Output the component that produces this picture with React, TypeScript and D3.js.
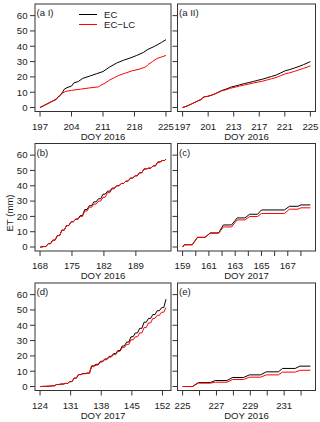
import React from 'react';
import * as d3 from 'd3';

type Pt = [number, number];

const seriesNames = ['EC', 'EC\u2212LC'];
const seriesColors = ['#000000', '#FF0000'];
const yTicks = [0, 10, 20, 30, 40, 50, 60];
const yLimits: [number, number] = [0, 65];
const yAxisTitle = 'ET (mm)';

// (a I)
const aIEC: Pt[] = [
  [197, 0], [198, 1.5], [199, 3.0], [200, 4.5], [200.5, 5.0], [201, 7.0], [201.5, 8.0], [202, 10.0],
  [202.4, 12.0], [203, 13.0], [204, 14.0], [204.5, 16.0], [205.5, 17.0], [206.5, 19.0], [208, 20.5],
  [209.5, 22.0], [211, 23.5], [212.5, 26.5], [214, 29.0], [215.5, 30.8], [217, 32.3], [218.5, 34.0],
  [220, 36.0], [221, 38.0], [222.5, 40.0], [224, 42.5], [225, 44.3],
];
const aILC: Pt[] = [
  [197, 0], [198, 1.5], [199, 3.0], [200, 4.5], [201, 6.5], [201.5, 8.0], [202, 9.5], [202.7, 10.5],
  [204, 11.2], [206, 12.0], [208, 12.8], [210, 13.5], [210.5, 14.5], [211.5, 16.0], [212.5, 18.0],
  [213.5, 19.5], [214.5, 21.0], [216, 22.5], [217.5, 24.0], [219, 25.0], [220.5, 26.5], [221, 28.0],
  [222, 30.0], [223, 32.0], [224, 33.0], [225, 34.0],
];

// (a II)
const aIIEC: Pt[] = [
  [197, 0], [198, 1.0], [199, 2.4], [200, 3.8], [201, 5.2], [201.7, 7.0], [202.5, 7.3], [203.5, 8.2],
  [204.5, 9.5], [205.5, 11.0], [206.5, 12.0], [207.5, 13.2], [208.5, 14.0], [209.5, 14.8], [210.5, 15.6],
  [211.5, 16.3], [212.5, 17.0], [213.5, 17.8], [214.5, 18.5], [215.5, 19.4], [216.5, 20.3], [217.5, 21.2],
  [218.5, 22.6], [219.5, 24.0], [220.5, 24.8], [221.5, 25.8], [222.5, 26.8], [223.5, 28.0], [224.5, 29.3],
  [225, 30.0],
];
const aIILC: Pt[] = [
  [197, 0], [198, 1.0], [199, 2.4], [200, 3.8], [201, 5.2], [201.7, 7.0], [202.5, 7.3], [203.5, 8.2],
  [204.5, 9.4], [205.5, 10.8], [206.5, 11.6], [207.5, 12.6], [208.5, 13.3], [209.5, 14.0], [210.5, 14.7],
  [211.5, 15.3], [212.5, 16.0], [213.5, 16.6], [214.5, 17.2], [215.5, 18.0], [216.5, 18.8], [217.5, 19.6],
  [218.5, 20.8], [219.5, 22.0], [220.5, 22.7], [221.5, 23.6], [222.5, 24.6], [223.5, 25.6], [224.5, 26.6],
  [225, 27.2],
];
const aIITickValues = [197, 202.6, 208.2, 213.8, 219.4, 225];
const aIITickLabels = ['197', '201', '213', '217', '221', '225'];

// (b) daily cumulative totals
const bDays = [168, 169, 170, 171, 172, 173, 174, 175, 176, 177, 178, 179, 180, 181, 182, 183, 184, 185, 186, 187, 188, 189, 190, 191, 192, 193, 194, 195];
const bEC = [0.3, 2.2, 4.5, 7.5, 11.0, 14.0, 16.5, 18.3, 20.5, 24.5, 27.0, 29.5, 31.5, 34.5, 36.5, 38.5, 40.0, 41.5, 43.0, 45.0, 46.5, 48.5, 51.0, 51.5, 53.0, 55.5, 56.5, 57.4];
const bLC = [0.3, 2.2, 4.5, 7.5, 11.0, 14.0, 16.5, 18.0, 20.0, 23.5, 26.0, 28.0, 30.0, 32.5, 35.5, 38.0, 40.0, 41.5, 43.0, 45.0, 46.5, 48.5, 51.0, 51.5, 53.0, 55.5, 56.5, 57.4];
const bEnd = 195.6;

// (c)
const cEC: Pt[] = [
  [159.0, 0], [159.13, 1.5], [159.74, 1.5], [160.13, 6.3], [160.7, 6.3], [161.1, 9.2], [161.74, 9.2],
  [162.1, 14.4], [162.72, 14.4], [163.15, 19.0], [163.74, 19.0], [164.1, 21.4], [164.7, 21.4], [165.0, 24.2],
  [166.74, 24.2], [167.13, 26.6], [167.77, 26.6], [168.0, 27.5], [168.72, 27.5],
];
const cLC: Pt[] = [
  [159.0, 0], [159.13, 1.5], [159.74, 1.5], [160.13, 6.3], [160.7, 6.3], [161.1, 9.0], [161.74, 9.0],
  [162.1, 13.1], [162.72, 13.1], [163.15, 17.7], [163.74, 17.7], [164.1, 19.9], [164.7, 19.9], [165.0, 21.9],
  [166.74, 21.9], [167.13, 24.7], [167.77, 24.7], [168.0, 25.6], [168.72, 25.6],
];
const cTickValues = [159, 160, 161, 162, 163, 164, 165, 166, 167, 168];
const cTickLabels = ['159', '', '161', '', '163', '', '165', '', '167', ''];

// (d) daily cumulative totals
const dDays = [124, 125, 126, 127, 128, 129, 130, 131, 132, 133, 134, 135, 136, 137, 138, 139, 140, 141, 142, 143, 144, 145, 146, 147, 148, 149, 150, 151, 152];
const dEC = [0.1, 0.2, 0.5, 1.3, 1.6, 2.0, 3.2, 5.5, 7.8, 8.5, 8.8, 13.5, 14.5, 16.5, 18.0, 19.7, 21.5, 23.5, 26.5, 29.0, 32.5, 35.0, 38.0, 42.0, 44.5, 47.0, 49.5, 51.5, 57.0];
const dLC = [0.1, 0.2, 0.5, 1.3, 1.6, 2.0, 3.2, 5.5, 7.8, 8.3, 8.6, 13.0, 14.0, 16.0, 17.5, 19.2, 20.8, 23.0, 25.5, 27.5, 30.5, 32.5, 35.0, 38.5, 41.5, 44.5, 46.5, 48.5, 51.5];
const dEnd = 152.8;

// (e)
const eEC: Pt[] = [
  [225.0, 0], [225.58, 0], [225.93, 2.6], [226.63, 2.6], [226.93, 3.9], [227.62, 3.9], [227.96, 5.9],
  [228.6, 5.9], [228.95, 7.6], [229.6, 7.6], [229.95, 9.6], [230.66, 9.6], [230.9, 11.8], [231.65, 11.8],
  [231.93, 13.3], [232.55, 13.3],
];
const eLC: Pt[] = [
  [225.0, 0], [225.58, 0], [225.93, 2.2], [226.63, 2.2], [226.93, 2.8], [227.62, 2.8], [227.96, 4.6],
  [228.6, 4.6], [228.95, 6.1], [229.6, 6.1], [229.95, 7.6], [230.66, 7.6], [230.9, 9.4], [231.65, 9.4],
  [231.93, 10.6], [232.55, 10.6],
];
const eTickValues = [225, 226, 227, 228, 229, 230, 231, 232];
const eTickLabels = ['225', '', '227', '', '229', '', '231', ''];

// draw daily totals as a staircase whose risers span the daytime hours
function dailySteps(days: number[], vals: number[], end: number): Pt[] {
  const pts: Pt[] = [[days[0], 0]];
  let prev = 0;
  days.forEach((d, i) => {
    pts.push([d + 0.3, prev]);
    pts.push([Math.min(d + 0.8, end), vals[i]]);
    prev = vals[i];
  });
  pts.push([end, prev]);
  return pts;
}

const FONT = 'Liberation Sans, Arial, Helvetica, sans-serif';
const FS = 9.6;

interface PanelDef {
  label: string;
  col: number;
  row: number;
  xData: [number, number];
  ticks: number[];
  tickLabels: string[];
  xTitle: string;
  series: Pt[][];
  legend?: boolean;
  yLabels: boolean;
}

const panels: PanelDef[] = [
  { label: '(a I)', col: 0, row: 0, xData: [197, 225], ticks: [197, 204, 211, 218, 225], tickLabels: ['197', '204', '211', '218', '225'], xTitle: 'DOY 2016', series: [aIEC, aILC], legend: true, yLabels: true },
  { label: '(a II)', col: 1, row: 0, xData: [197, 225], ticks: aIITickValues, tickLabels: aIITickLabels, xTitle: 'DOY 2016', series: [aIIEC, aIILC], yLabels: false },
  { label: '(b)', col: 0, row: 1, xData: [168, bEnd], ticks: [168, 175, 182, 189], tickLabels: ['168', '175', '182', '189'], xTitle: 'DOY 2016', series: [dailySteps(bDays, bEC, bEnd), dailySteps(bDays, bLC, bEnd)], yLabels: true },
  { label: '(c)', col: 1, row: 1, xData: [159, 168.72], ticks: cTickValues, tickLabels: cTickLabels, xTitle: 'DOY 2017', series: [cEC, cLC], yLabels: false },
  { label: '(d)', col: 0, row: 2, xData: [124, dEnd], ticks: [124, 131, 138, 145, 152], tickLabels: ['124', '131', '138', '145', '152'], xTitle: 'DOY 2017', series: [dailySteps(dDays, dEC, dEnd), dailySteps(dDays, dLC, dEnd)], yLabels: true },
  { label: '(e)', col: 1, row: 2, xData: [225, 232.55], ticks: eTickValues, tickLabels: eTickLabels, xTitle: 'DOY 2016', series: [eEC, eLC], yLabels: false },
];

const colX: [number, number][] = [[35, 171], [177.5, 315.5]];
const rowTop = [4, 143.5, 283];
const boxH = 107.5;

function ext([a, b]: [number, number]): [number, number] {
  const d = (b - a) * 0.04;
  return [a - d, b + d];
}

function Panel({ p }: { p: PanelDef }) {
  const [x0, x1] = colX[p.col];
  const top = rowTop[p.row];
  const bottom = top + boxH;
  const x = d3.scaleLinear().domain(ext(p.xData)).range([x0, x1]);
  const y = d3.scaleLinear().domain(ext(yLimits)).range([bottom, top]);
  const line = d3
    .line<Pt>()
    .x((d) => x(d[0]))
    .y((d) => y(d[1]))
    .curve(d3.curveLinear);
  const tickLen = 5;
  return (
    <g>
      <defs>
        <clipPath id={`clip-${p.col}-${p.row}`}>
          <rect x={x0} y={top} width={x1 - x0} height={boxH} />
        </clipPath>
      </defs>
      <g clipPath={`url(#clip-${p.col}-${p.row})`}>
        {p.series.map((s, i) => (
          <path key={i} d={line(s) || ''} fill="none" stroke={seriesColors[i]} strokeWidth={1} />
        ))}
      </g>
      <rect x={x0} y={top} width={x1 - x0} height={boxH} fill="none" stroke="#333" strokeWidth={1} />
      {yTicks.map((t) => (
        <g key={t}>
          <line x1={x0 - tickLen} x2={x0} y1={y(t)} y2={y(t)} stroke="#333" strokeWidth={1} />
          {p.yLabels && (
            <text x={x0 - 7.5} y={y(t)} dy="0.35em" textAnchor="end" fontSize={FS} fontFamily={FONT} fill="#1a1a1a">
              {t}
            </text>
          )}
        </g>
      ))}
      {p.ticks.map((t, i) => (
        <g key={i}>
          <line x1={x(t)} x2={x(t)} y1={bottom} y2={bottom + tickLen} stroke="#333" strokeWidth={1} />
          {p.tickLabels[i] && (
            <text x={x(t)} y={bottom + 18} textAnchor="middle" fontSize={FS} fontFamily={FONT} fill="#1a1a1a">
              {p.tickLabels[i]}
            </text>
          )}
        </g>
      ))}
      <text x={(x0 + x1) / 2} y={bottom + 28.3} textAnchor="middle" fontSize={FS} fontFamily={FONT} fill="#1a1a1a">
        {p.xTitle}
      </text>
      <text x={x0 + 1.5} y={top + 12} fontSize={FS} fontFamily={FONT} fill="#1a1a1a">
        {p.label}
      </text>
      {p.legend &&
        seriesNames.map((n, i) => (
          <g key={n}>
            <line x1={x0 + 44} x2={x0 + 62} y1={top + 10.5 + i * 10} y2={top + 10.5 + i * 10} stroke={seriesColors[i]} strokeWidth={1} />
            <text x={x0 + 69} y={top + 10.5 + i * 10} dy="0.35em" fontSize={FS} fontFamily={FONT} fill="#1a1a1a">
              {n}
            </text>
          </g>
        ))}
    </g>
  );
}

export default function App() {
  return (
    <svg
      width={320}
      height={422}
      viewBox="0 0 320 422"
      style={{ position: 'absolute', left: 0, top: 0, background: '#fff' }}
    >
      <rect width={320} height={422} fill="#fff" />
      {panels.map((p) => (
        <Panel key={p.label} p={p} />
      ))}
      <text
        transform={`translate(10, 213) rotate(-90)`}
        textAnchor="middle"
        dy="0.35em"
        fontSize={FS}
        fontFamily={FONT}
        fill="#1a1a1a"
      >
        {yAxisTitle}
      </text>
    </svg>
  );
}
